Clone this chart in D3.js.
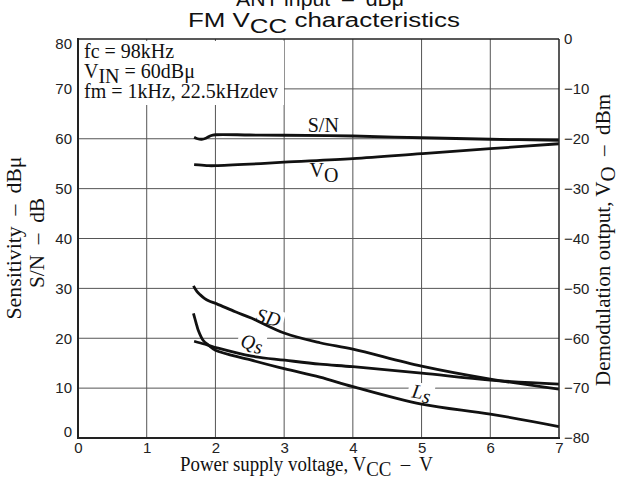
<!DOCTYPE html>
<html><head><meta charset="utf-8">
<script src="https://cdn.jsdelivr.net/npm/d3@7"></script>
<style>
html,body{margin:0;padding:0;background:#fff;}
svg{display:block;}
svg text{white-space:pre;}
</style></head>
<body>
<svg id="chart" width="617" height="486"></svg>
<script>
// ---- data ----
const xTicks = [0,1,2,3,4,5,6,7];
const leftTicks = [0,10,20,30,40,50,60,70,80];
const rightTicks = [0,-10,-20,-30,-40,-50,-60,-70,-80];

const snVcc = [1.69,1.74,1.80,1.86,1.93,2.0,2.5,3,4,5,6,7];
const snVal = [60.3,60.0,59.9,60.1,60.6,60.8,60.75,60.7,60.55,60.2,59.9,59.7];

const voVcc = [1.69,1.8,1.9,2.0,2.5,3,4,5,6,7];
const voVal = [-25.2,-25.3,-25.4,-25.4,-25.1,-24.7,-24.0,-23.0,-22.0,-21.0];

const sdVcc = [1.68,1.73,1.78,1.84,1.9,2.02,2.29,2.53,3.01,3.52,4,5,6,7];
const sdVal = [30.5,29.4,28.7,28.0,27.5,26.9,25.3,24.0,21.0,19.1,17.8,14.4,11.8,9.8];

const qsVcc = [1.69,1.85,2.04,2.53,3.01,3.52,4,5,6,7];
const qsVal = [19.4,18.8,18.0,16.4,15.6,14.8,14.3,13.0,11.6,10.8];

const lsVcc = [1.68,1.72,1.75,1.82,1.9,2.0,2.5,3.0,3.52,4,5,6,7];
const lsVal = [25.0,23.0,21.6,19.6,18.6,17.6,15.7,13.9,12.2,10.3,6.8,4.8,2.3];

const conditionLines = ["fc = 98kHz", ["V","IN"," = 60dBμ"], "fm = 1kHz, 22.5kHzdev"];

const curveLabels = [
  {t:"SD", x:2.77, y:24.2, r:15, italic:true, bg:true},
  {t:"Qs", x:2.53, y:19.2, r:10, italic:true, bg:true},
  {t:"Ls", x:5.0, y:9.2, r:10, italic:true, bg:true},
  {t:"S/N", x:3.57, y:62.8, r:0, italic:false, bg:false}
];

// ---- layout ----
const svg = d3.select("#chart");
const L=78, R=559, T=39, B=438;
const x = d3.scaleLinear().domain([0,7]).range([L,R]);
const yL = d3.scaleLinear().domain([0,80]).range([B,T]);
const yR = d3.scaleLinear().domain([-80,0]).range([B,T]);
const serif = "'Liberation Serif','Times New Roman',serif";
const sans = "'Liberation Sans',Arial,sans-serif";

// grid
const grid = svg.append("g").attr("stroke","#555").attr("stroke-width",1);
xTicks.filter(d=>d>0&&d<7).forEach(d=>{
  grid.append("line").attr("x1",x(d)).attr("x2",x(d)).attr("y1",T).attr("y2",B);
});
leftTicks.filter(d=>d>0&&d<80).forEach(d=>{
  grid.append("line").attr("x1",L).attr("x2",R).attr("y1",yL(d)).attr("y2",yL(d));
});

// condition text block with white background
const cond = svg.append("g");
const condBg = cond.append("rect").attr("fill","#fff");
const condText = cond.append("g").attr("font-family",serif).attr("font-size",20).attr("fill","#111");
conditionLines.forEach((ln,i)=>{
  const t = condText.append("text").attr("x",84).attr("y",58+i*20);
  if(Array.isArray(ln)){
    t.append("tspan").text(ln[0]);
    t.append("tspan").attr("dy",5).text(ln[1]);
    t.append("tspan").attr("dy",-5).text(ln[2]);
  } else t.text(ln);
});
const cb = condText.node().getBBox();
condBg.attr("x",L+1).attr("y",T+2).attr("width",cb.x+cb.width+6-(L+1)).attr("height",cb.y+cb.height+3-(T+2));

// curve labels (with white bg)
const labG = svg.append("g");
curveLabels.forEach(d=>{
  const g = labG.append("g").attr("transform",`translate(${x(d.x)},${yL(d.y)}) rotate(${d.r})`);
  const bg = g.append("rect").attr("fill","#fff");
  const t = g.append("text").attr("font-family",serif).attr("font-size",20)
    .attr("font-style",d.italic?"italic":"normal").attr("text-anchor","middle")
    .attr("dominant-baseline","central").attr("fill","#111");
  if(d.t==="Qs"||d.t==="Ls"){
    t.append("tspan").text(d.t[0]);
    t.append("tspan").attr("dy",3).text(d.t[1]);
  } else t.text(d.t);
  if(d.bg){
    const b = t.node().getBBox();
    bg.attr("x",b.x-3).attr("y",b.y+2).attr("width",b.width+6).attr("height",b.height-4);
  }
});
// V_O label
const vo = svg.append("text").attr("x",x(3.37)).attr("y",yL(52.3))
  .attr("font-family",serif).attr("font-size",20).attr("fill","#111");
vo.append("tspan").text("V");
vo.append("tspan").attr("dy",5).text("O");

// curves
const lineL = d3.line().x(d=>x(d[0])).y(d=>yL(d[1])).curve(d3.curveCatmullRom.alpha(0.5));
const lineR = d3.line().x(d=>x(d[0])).y(d=>yR(d[1])).curve(d3.curveCatmullRom.alpha(0.5));
const curves = svg.append("g").attr("fill","none").attr("stroke","#111").attr("stroke-width",2.8)
  .attr("stroke-linejoin","round").attr("stroke-linecap","butt");
curves.append("path").attr("d",lineL(d3.zip(snVcc,snVal)));
curves.append("path").attr("d",lineR(d3.zip(voVcc,voVal)));
curves.append("path").attr("d",lineL(d3.zip(sdVcc,sdVal)));
curves.append("path").attr("d",lineL(d3.zip(qsVcc,qsVal)));
curves.append("path").attr("d",lineL(d3.zip(lsVcc,lsVal)));

// frame
svg.append("line").attr("x1",L).attr("x2",R).attr("y1",T).attr("y2",T).attr("stroke","#222").attr("stroke-width",1.5);
svg.append("line").attr("x1",R).attr("x2",R).attr("y1",T).attr("y2",B).attr("stroke","#222").attr("stroke-width",1.5);
svg.append("line").attr("x1",L).attr("x2",L).attr("y1",T-1).attr("y2",B+1).attr("stroke","#222").attr("stroke-width",2);
svg.append("line").attr("x1",L-1).attr("x2",R+1).attr("y1",B).attr("y2",B).attr("stroke","#222").attr("stroke-width",2);

// axes (tick labels only)
const axB = svg.append("g").attr("transform",`translate(0,${B})`)
  .call(d3.axisBottom(x).tickValues(xTicks).tickSize(0).tickPadding(4).tickFormat(d3.format("d")));
const axL = svg.append("g").attr("transform",`translate(${L},0)`)
  .call(d3.axisLeft(yL).tickValues(leftTicks).tickSize(0).tickPadding(6).tickFormat(d3.format("d")));
const axR = svg.append("g").attr("transform",`translate(${R},0)`)
  .call(d3.axisRight(yR).tickValues(rightTicks).tickSize(0).tickPadding(5).tickFormat(d=>d<0?"−"+(-d):String(d)));
[axB,axL,axR].forEach(a=>{
  a.select(".domain").remove();
  a.selectAll("text").attr("font-family",sans).attr("font-size",15).attr("fill","#222");
});
axL.selectAll(".tick").filter(d=>d===0).select("text").attr("dy","-0.1em");
axL.selectAll(".tick").filter(d=>d===80).select("text").attr("dy","0.6em");

// titles
const title = svg.append("text").attr("x",324).attr("y",27).attr("text-anchor","middle")
  .attr("font-family",sans).attr("font-size",20).attr("fill","#111")
  .attr("textLength",272).attr("lengthAdjust","spacingAndGlyphs");
title.append("tspan").text("FM V");
title.append("tspan").attr("dy",6).text("CC");
title.append("tspan").attr("dy",-6).text(" characteristics");
svg.append("text").attr("x",320).attr("y",6).attr("text-anchor","middle")
  .attr("font-family",sans).attr("font-size",20).attr("fill","#111")
  .attr("textLength",168).attr("lengthAdjust","spacingAndGlyphs").text("ANT input  –  dBμ");

const xt = svg.append("text").attr("x",180).attr("y",471).attr("text-anchor","start")
  .attr("font-family",serif).attr("font-size",20).attr("fill","#111")
  .attr("textLength",253).attr("lengthAdjust","spacingAndGlyphs");
xt.append("tspan").text("Power supply voltage, V");
xt.append("tspan").attr("dy",5).text("CC");
xt.append("tspan").attr("dy",-5).text("  –  V");

const ylg = svg.append("g").attr("font-family",serif).attr("font-size",20).attr("fill","#111").attr("text-anchor","middle");
ylg.append("text").attr("transform",`translate(21,238) rotate(-90)`)
  .attr("textLength",163).attr("lengthAdjust","spacingAndGlyphs").text("Sensitivity  –  dBμ");
ylg.append("text").attr("transform",`translate(44,243) rotate(-90)`)
  .attr("textLength",90).attr("lengthAdjust","spacingAndGlyphs").text("S/N  –  dB");
const yr = ylg.append("text").attr("transform",`translate(610,240) rotate(-90)`)
  .attr("textLength",292).attr("lengthAdjust","spacingAndGlyphs");
yr.append("tspan").text("Demodulation output, V");
yr.append("tspan").attr("dy",5).text("O");
yr.append("tspan").attr("dy",-5).text("  –  dBm");
</script>
</body></html>
